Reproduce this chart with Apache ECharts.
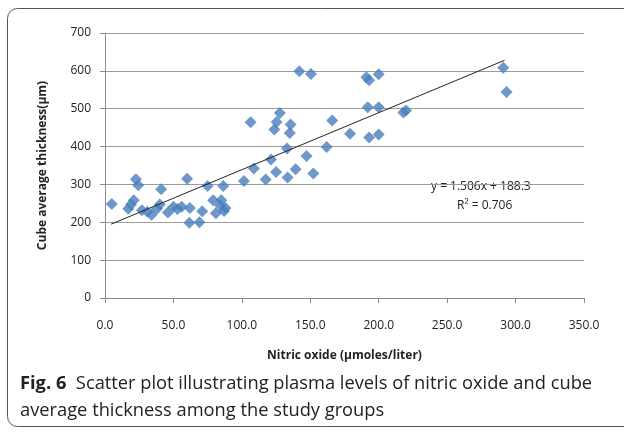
<!DOCTYPE html>
<html>
<head>
<meta charset="utf-8">
<script src="https://cdn.jsdelivr.net/npm/echarts@6/dist/echarts.min.js"></script>
<style>
  html, body { margin: 0; padding: 0; background: #fff; }
  #chart { width: 624px; height: 433px; }
</style>
</head>
<body>
<div id="chart"></div>
<script>
// nitric oxide (x) vs cube average thickness (y)
const nitricOxide = [5, 17, 19, 21, 22.6, 24.3, 27, 31, 34, 38, 40, 41, 46, 50, 53, 56, 60, 61.6, 62, 69,
  71, 75, 79, 81, 84, 85, 86.4, 87, 88, 101.5, 106.4, 108.8, 117.4, 121.3, 123.7, 125, 125.4, 127.8, 133, 133.4,
  135, 135.6, 139.3, 142, 147.3, 150.5, 152.2, 162, 166, 179, 191, 193, 192, 193, 200, 200, 200, 218, 220, 291, 293.4]
const thickness = [248, 236, 247, 258, 314, 298, 232, 228, 220, 236, 247, 287, 226, 241, 235, 241, 315, 199, 238, 200,
  229, 296, 258, 224, 245, 258, 296, 230, 238, 309, 464, 342, 313, 366, 445, 333, 465, 489, 395, 318,
  436, 458, 340, 599, 375, 592, 329, 399, 469, 434, 583, 575, 504, 424, 591, 504, 432, 490, 495, 608, 544]

// linear trend shown in the figure
const slope = 1.506
const intercept = 188.3
const trendX = [4.5, 292]

const points = nitricOxide.map((x, i) => [x, thickness[i]])
const trend = trendX.map(x => [x, slope * x + intercept])

const chart = echarts.init(document.getElementById('chart'))
const axisGray = '#8c8c8c'
chart.setOption({
  animation: false,
  textStyle: { fontFamily: 'Open Sans' },
  grid: { left: 105, right: 40, top: 33, bottom: 135 },
  graphic: [
    {
      type: 'rect',
      shape: { x: 7.5, y: 8.5, width: 640, height: 418, r: 10 },
      style: { fill: 'none', stroke: '#555', lineWidth: 1 }
    },
    {
      type: 'text', left: 20, top: 370,
      style: {
        text: '{b|Fig. 6}  Scatter plot illustrating plasma levels of nitric oxide and cube\naverage thickness among the study groups',
        fontFamily: 'Open Sans', fontSize: 18.3, fill: '#222', lineHeight: 27,
        rich: { b: { fontWeight: 'bold', fontSize: 18.3, fontFamily: 'Open Sans', fill: '#222' } }
      }
    },
    {
      type: 'text', left: 431, top: 181,
      style: { text: 'y = 1.506x + 188.3', fontFamily: 'Open Sans', fontSize: 12, fill: '#222' }
    },
    {
      type: 'text', left: 457, top: 200,
      style: { text: 'R² = 0.706', fontFamily: 'Open Sans', fontSize: 12, fill: '#222' }
    }
  ],
  xAxis: {
    type: 'value',
    min: 0, max: 350, interval: 50,
    name: 'Nitric oxide (µmoles/liter)',
    nameLocation: 'middle',
    nameGap: 52,
    nameTextStyle: { fontWeight: 'bold', fontSize: 12, color: '#222' },
    axisLine: { onZero: false, lineStyle: { color: axisGray } },
    axisTick: { show: true, length: 5, lineStyle: { color: axisGray } },
    axisLabel: { formatter: v => v.toFixed(1), color: '#222', fontSize: 12, margin: 22 },
    splitLine: { show: false }
  },
  yAxis: {
    type: 'value',
    min: 0, max: 700, interval: 100,
    name: 'Cube average thickness(µm)',
    nameLocation: 'middle',
    nameGap: 56,
    nameTextStyle: { fontWeight: 'bold', fontSize: 12, color: '#222' },
    axisLine: { show: true, lineStyle: { color: axisGray } },
    axisTick: { show: true, length: 5, lineStyle: { color: axisGray } },
    axisLabel: { color: '#222', fontSize: 12, margin: 14 },
    splitLine: { lineStyle: { color: '#9a9a9a' } }
  },
  series: [
    {
      type: 'scatter',
      data: points,
      symbol: 'diamond',
      symbolSize: 12,
      itemStyle: { color: '#4a7ebb' }
    },
    {
      type: 'line',
      data: trend,
      symbol: 'none',
      lineStyle: { color: '#222', width: 1 },
      z: 3
    }
  ]
})
</script>
</body>
</html>
